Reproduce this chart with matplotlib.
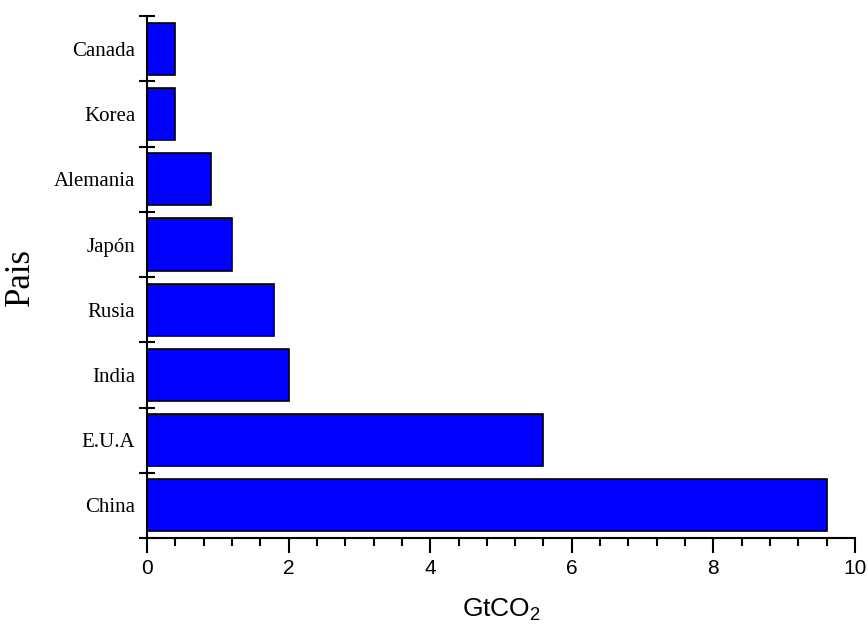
import numpy as np
import matplotlib
matplotlib.use('Agg')
import matplotlib.pyplot as plt
from matplotlib.ticker import MultipleLocator, FixedLocator, NullFormatter

# data
paises = ['China', 'E.U.A', 'India', 'Rusia', 'Japón', 'Alemania', 'Korea', 'Canada']
emisiones = [9.6, 5.6, 2.0, 1.8, 1.2, 0.9, 0.4, 0.4]
xticks = [0, 2, 4, 6, 8, 10]

plt.rcParams['mathtext.default'] = 'regular'

fig = plt.figure(figsize=(8.68, 6.24), dpi=100)
ax = fig.add_axes([0.1694, 0.1378, 0.8156, 0.8362])

pos = np.arange(len(paises))
ax.barh(pos, emisiones, height=0.8, color='#0000FF', edgecolor='black', linewidth=1.2)

ax.set_xlim(0, 10)
ax.set_ylim(-0.5, len(paises) - 0.5)

for s in ['top', 'right']:
    ax.spines[s].set_visible(False)
for s in ['left', 'bottom']:
    ax.spines[s].set_linewidth(1.5)

# x axis: majors every 2, minors every 0.4
ax.set_xticks(xticks)
ax.xaxis.set_minor_locator(MultipleLocator(0.4))
ax.tick_params(axis='x', which='major', direction='out', length=11, width=1.5,
               labelsize=15, pad=4)
ax.tick_params(axis='x', which='minor', direction='out', length=6, width=1.5)
for t in ax.get_xticklabels():
    t.set_fontfamily('Liberation Sans')

# y axis: labels centred on bars, ticks on the boundaries
ax.set_yticks(pos)
ax.set_yticklabels(paises, fontfamily='Liberation Serif', fontsize=15)
ax.tick_params(axis='y', which='major', length=0, pad=8.5)
ax.yaxis.set_minor_locator(FixedLocator(np.arange(-0.5, len(paises), 1.0)))
ax.yaxis.set_minor_formatter(NullFormatter())
ax.tick_params(axis='y', which='minor', direction='inout', length=12, width=1.5)

ax.set_ylabel('Pais', fontfamily='Liberation Serif', fontsize=25, labelpad=12)
ax.set_xlabel('GtCO$_2$', fontfamily='Liberation Sans', fontsize=19, labelpad=14)

fig.savefig('out.png', dpi=100)
